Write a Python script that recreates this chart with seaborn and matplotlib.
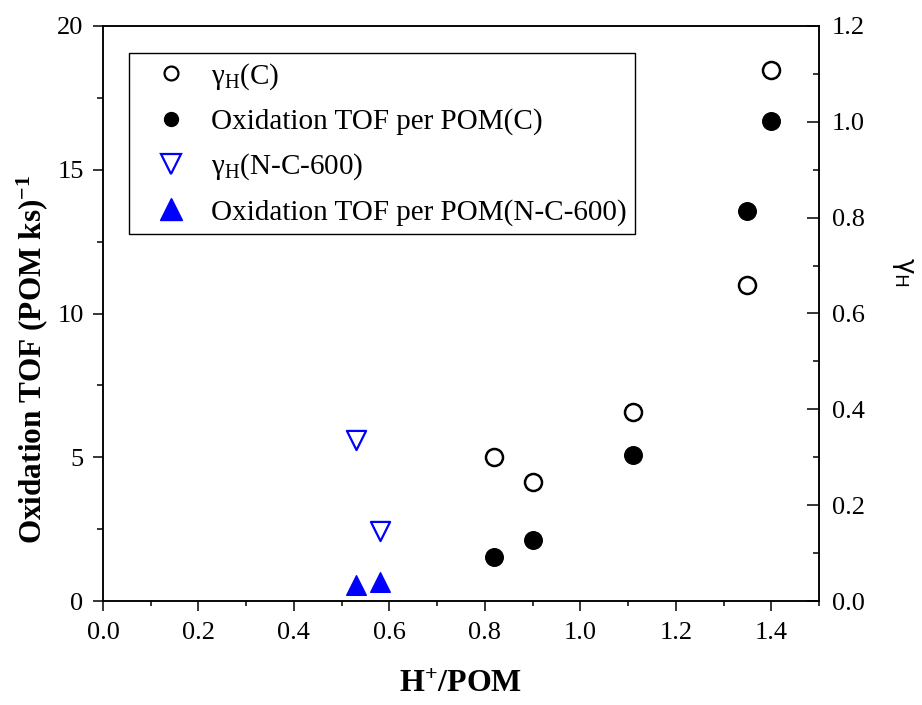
import matplotlib
matplotlib.use("Agg")
import matplotlib.pyplot as plt
from matplotlib.lines import Line2D
from matplotlib.ticker import MultipleLocator, FormatStrFormatter
import seaborn as sns

# H+/POM ratio and measured values for the carbon-supported catalyst (C)
h_pom_c = [0.82, 0.90, 1.11, 1.35, 1.40]
tof_c = [1.53, 2.12, 5.08, 13.57, 16.70]
gamma_c = [0.300, 0.249, 0.394, 0.660, 1.108]

# Same quantities for the N-doped carbon support (N-C-600)
h_pom_nc = [0.53, 0.58]
tof_nc = [0.56, 0.66]
gamma_nc = [0.337, 0.146]

legend_labels = [
    "γ$_{\\mathrm{H}}$(C)",
    "Oxidation TOF per POM(C)",
    "γ$_{\\mathrm{H}}$(N-C-600)",
    "Oxidation TOF per POM(N-C-600)",
]

sns.set_theme(style="white")
plt.rcParams["font.family"] = ["Liberation Serif", "DejaVu Serif"]
plt.rcParams["mathtext.fontset"] = "custom"
plt.rcParams["mathtext.rm"] = "Liberation Serif"
plt.rcParams["mathtext.it"] = "Liberation Serif:italic"
plt.rcParams["mathtext.bf"] = "Liberation Serif:bold"
plt.rcParams["mathtext.sf"] = "DejaVu Sans"
for key in ("text.color", "axes.labelcolor", "xtick.color", "ytick.color",
            "axes.edgecolor"):
    plt.rcParams[key] = "black"

fig = plt.figure(figsize=(9.22, 7.05), dpi=100)
ax = fig.add_axes([103 / 922, 104 / 705, 716 / 922, 575 / 705])
ax2 = ax.twinx()

blue = "#0000ff"

# TOF on the left axis
sns.scatterplot(x=h_pom_c, y=tof_c, ax=ax, marker="o", s=160,
                color="black", edgecolor="black", linewidth=1.0,
                legend=False, zorder=3)
sns.scatterplot(x=h_pom_nc, y=tof_nc, ax=ax, marker="^", s=200,
                color=blue, edgecolor=blue, linewidth=1.0,
                legend=False, zorder=3)

# gamma_H on the right axis
sns.scatterplot(x=h_pom_c, y=gamma_c, ax=ax2, marker="o", s=150,
                color="white", edgecolor="black", linewidth=1.8,
                legend=False, zorder=3)
sns.scatterplot(x=h_pom_nc, y=gamma_nc, ax=ax2, marker="v", s=190,
                color="white", edgecolor=blue, linewidth=1.6,
                legend=False, zorder=3)

ax.set_xlim(0, 1.5)
ax.set_ylim(0, 20)
ax2.set_ylim(0, 1.2)

ax.xaxis.set_major_locator(MultipleLocator(0.2))
ax.xaxis.set_minor_locator(MultipleLocator(0.1))
ax.xaxis.set_major_formatter(FormatStrFormatter("%.1f"))
ax.yaxis.set_major_locator(MultipleLocator(5))
ax.yaxis.set_minor_locator(MultipleLocator(2.5))
ax2.yaxis.set_major_locator(MultipleLocator(0.2))
ax2.yaxis.set_minor_locator(MultipleLocator(0.1))
ax2.yaxis.set_major_formatter(FormatStrFormatter("%.1f"))

for a in (ax, ax2):
    for sp in a.spines.values():
        sp.set_color("black")
        sp.set_linewidth(1.1)
        sp.set_visible(True)

ax.tick_params(axis="x", which="both", bottom=True, top=False, direction="out",
               color="black", labelcolor="black", width=1.1, labelsize=19, pad=8)
ax.tick_params(axis="x", which="major", length=7)
ax.tick_params(axis="x", which="minor", length=3.5)
ax.tick_params(axis="y", which="both", left=True, right=False, direction="out",
               color="black", labelcolor="black", width=1.1, labelsize=19, pad=7)
ax.tick_params(axis="y", which="major", length=7)
ax.tick_params(axis="y", which="minor", length=4)
ax2.tick_params(axis="y", which="both", right=True, left=False, direction="in",
                color="black", labelcolor="black", width=1.1, labelsize=19, pad=9)
ax2.tick_params(axis="y", which="major", length=9)
ax2.tick_params(axis="y", which="minor", length=4)

ax.set_xlabel("H$^{\\mathbf{+}}$/POM", fontsize=23, fontweight="bold",
              color="black", ha="center", va="center")
ax.xaxis.set_label_coords(0.5, -0.145)
ax.set_ylabel("Oxidation TOF (POM ks)$^{\\mathbf{-1}}$", fontsize=22.5,
              fontweight="bold", color="black", ha="center", va="center")
ax.yaxis.set_label_coords(-0.099, 0.42)
ax2.set_ylabel("γ$_{\\mathsf{H}}$", family=["DejaVu Sans"], fontsize=19,
               color="black", rotation=-90, ha="center", va="center")
ax2.yaxis.set_label_coords(1.117, 0.572)

handles = [
    Line2D([], [], linestyle="none", marker="o", markersize=10,
           markerfacecolor="white", markeredgecolor="black", markeredgewidth=1.6),
    Line2D([], [], linestyle="none", marker="o", markersize=10,
           markerfacecolor="black", markeredgecolor="black"),
    Line2D([], [], linestyle="none", marker="v", markersize=15,
           markerfacecolor="white", markeredgecolor=blue, markeredgewidth=1.6),
    Line2D([], [], linestyle="none", marker="^", markersize=16,
           markerfacecolor=blue, markeredgecolor=blue),
]
leg = ax2.legend(handles, legend_labels, loc="upper left",
                 bbox_to_anchor=(0.036, 0.953), borderaxespad=0,
                 fontsize=21, frameon=True, fancybox=False, framealpha=1,
                 edgecolor="black", borderpad=0.27, handlelength=2.35,
                 handletextpad=0.2, labelspacing=0.57)
leg.get_frame().set_linewidth(1.0)
for t in leg.get_texts():
    t.set_color("black")

fig.savefig("out.png", dpi=100)
